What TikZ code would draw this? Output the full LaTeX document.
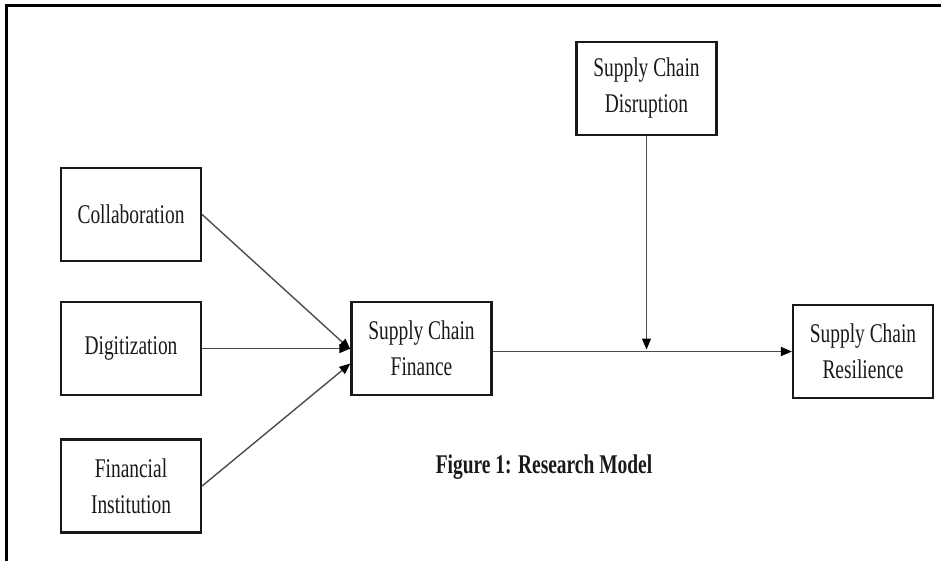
\documentclass[tikz,border=0pt]{standalone}
\usepackage{fontspec}
\setmainfont{Liberation Serif}[FakeStretch=0.72]
\usetikzlibrary{arrows.meta,calc}

\begin{document}
\begin{tikzpicture}[x=1pt,y=-1pt,
   var/.style={draw=black!90, line width=2.2pt, minimum width=140pt, minimum height=93pt,
               align=center, inner sep=2pt, font=\fontsize{27}{36}\selectfont, text=black!90},
   link/.style={draw=black!70, line width=1.4pt, -{Triangle[length=11pt,width=9pt,color=black]}}]
   \useasboundingbox (0,0) rectangle (941,560);

   % frame
   \draw[line width=3pt] (6,562) -- (6,5) -- (943,5);

   \node[var] (col) at (131,214.5) {Collaboration};
   \node[var] (dig) at (131,348.5) {Digitization};
   \node[var] (fin) at (131,486) {Financial\\Institution};
   \node[var] (scf) at (421.5,348.5) {Supply Chain\\Finance};
   \node[var] (dis) at (646.5,88.5) {Supply Chain\\Disruption};
   \node[var] (res) at (863,351.5) {Supply Chain\\Resilience};

   \node[font=\bfseries\fontsize{27}{32}\selectfont, text=black!90] (cap) at (544,467)
      {Figure 1: Research Model};

   \draw[link] (col.east) -- ($(scf.west)+(0,1)$);
   \draw[link] (dig.east) -- (scf.west);
   \draw[link] (fin.east) -- ($(scf.west)+(0,15)$);
   \draw[link] (scf.east |- res.west) -- (res.west);

   \coordinate (mod) at (dis.south |- res.west);
   \draw[link] (dis.south) -- ($(mod)+(0,-2)$);

\end{tikzpicture}
\end{document}
